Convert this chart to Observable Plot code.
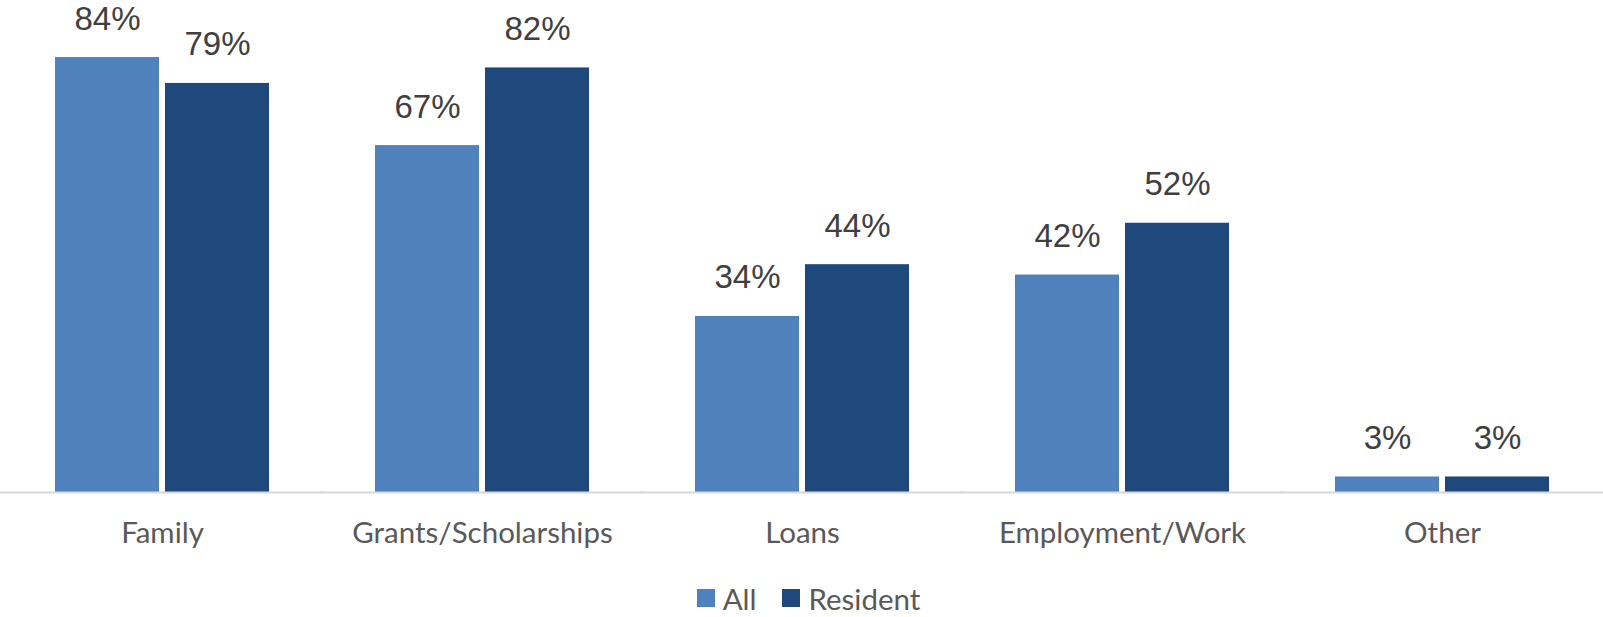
<!DOCTYPE html>
<html>
<head>
<meta charset="utf-8">
<script src="https://cdn.jsdelivr.net/npm/d3@7"></script>
<script src="https://cdn.jsdelivr.net/npm/@observablehq/plot@0.6"></script>
<style>
  html, body { margin: 0; padding: 0; background: #fff; }
  #chart { width: 1603px; }
  #legend { width: 1603px; height: 52px; display: flex; justify-content: center; align-items: center; padding-top: 29px; padding-left: 14px; box-sizing: border-box; }
  #legend [class$="-swatches"] { margin: 0 !important; min-height: 0 !important; }
  #legend [class$="-swatch"] { margin: 0 !important; }
  #legend [class$="-swatch"] + [class$="-swatch"] { margin-left: 26px !important; }
  #legend [class$="-swatch"] > svg { margin-right: 8px !important; }
</style>
</head>
<body>
<div id="chart"></div>
<div id="legend"></div>
<script>
const categories = ["Family", "Grants/Scholarships", "Loans", "Employment/Work", "Other"];
const series = ["All", "Resident"];
const allValues = [0.84, 0.67, 0.34, 0.42, 0.03];
const residentValues = [0.79, 0.82, 0.44, 0.52, 0.03];
const colors = ["#4f81bd", "#1f497d"];

const data = [];
categories.forEach((c, i) => {
  data.push({category: c, series: "All", value: allValues[i]});
  data.push({category: c, series: "Resident", value: residentValues[i]});
});

const chart = Plot.plot({
  width: 1603,
  height: 565,
  marginTop: 26,
  marginBottom: 73,
  marginLeft: 0,
  marginRight: 0,
  style: {fontFamily: "Lato", fontSize: "29.5px", color: "#595959", background: "#fff"},
  fx: {domain: categories, paddingInner: 0.326, paddingOuter: 0.163, label: null, axis: "bottom", tickSize: 0, tickPadding: 30},
  x: {domain: series, paddingInner: 0.054, paddingOuter: 0, axis: null},
  y: {domain: [0, 0.9], axis: null},
  color: {domain: series, range: colors},
  marks: [
    Plot.barY(data, {fx: "category", x: "series", y: "value", fill: "series"}),
    Plot.ruleY([0], {stroke: "#d9d9d9", strokeWidth: 2, insetLeft: -54, insetRight: -54}),
    Plot.text(data, {
      fx: "category", x: "series", y: "value",
      text: d => Math.round(d.value * 100) + "%",
      lineAnchor: "bottom", dy: -28,
      fontFamily: "Liberation Sans, Arial, sans-serif", fontSize: 33, fill: "#404040"
    })
  ]
});
document.getElementById("chart").appendChild(chart);

const legend = Plot.legend({
  color: {domain: series, range: colors},
  legend: "swatches",
  swatchSize: 18,
  style: {fontFamily: "Lato", fontSize: "29.5px", color: "#595959"}
});
document.getElementById("legend").appendChild(legend);
</script>
</body>
</html>
